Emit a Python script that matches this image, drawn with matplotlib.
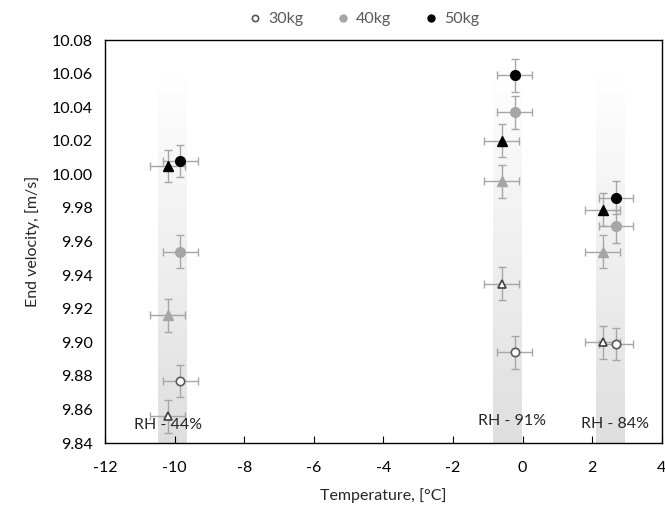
import numpy as np
import matplotlib
matplotlib.use("Agg")
import matplotlib.pyplot as plt
from matplotlib.lines import Line2D

plt.rcParams["font.family"] = ["Lato", "DejaVu Sans"]
plt.rcParams["axes.unicode_minus"] = False

# measured values (three RH conditions)
rh_labels = ["RH - 44%", "RH - 91%", "RH - 84%"]
band_temp = [-10.06, -0.43, 2.53]

circle_temp = [-9.84, -0.22, 2.69]
circle_30kg = [9.877, 9.894, 9.899]
circle_40kg = [9.954, 10.037, 9.969]
circle_50kg = [10.008, 10.059, 9.986]

triangle_temp = [-10.2, -0.6, 2.31]
triangle_30kg = [9.856, 9.935, 9.900]
triangle_40kg = [9.916, 9.996, 9.954]
triangle_50kg = [10.005, 10.020, 9.979]

temp_err = 0.5
vel_err = 0.0098

fig = plt.figure(figsize=(6.65, 5.07), dpi=100)
ax = fig.add_axes([0.158, 0.126, 0.837, 0.795])

# shaded RH bands: white at the top fading to light grey at the axis
grad = 1 - 0.13 * np.linspace(1, 0, 100).reshape(-1, 1)
for t in band_temp:
    ax.imshow(grad, extent=[t - 0.41, t + 0.41, 9.84, 10.068], aspect="auto",
              cmap="gray", vmin=0, vmax=1, origin="lower", zorder=0)

ebar = dict(fmt="none", ecolor="#a6a6a6", elinewidth=1, capsize=3, capthick=1, zorder=2)
for xs, ys in [(circle_temp, circle_30kg), (circle_temp, circle_40kg), (circle_temp, circle_50kg),
               (triangle_temp, triangle_30kg), (triangle_temp, triangle_40kg),
               (triangle_temp, triangle_50kg)]:
    ax.errorbar(xs, ys, xerr=temp_err, yerr=vel_err, **ebar)

ax.plot(circle_temp, circle_30kg, "o", ms=6, mfc="white", mec="#595959", mew=1.2, ls="none", zorder=3)
ax.plot(circle_temp, circle_40kg, "o", ms=7, color="#a6a6a6", ls="none", zorder=3)
ax.plot(circle_temp, circle_50kg, "o", ms=7, color="black", ls="none", zorder=3)
ax.plot(triangle_temp, triangle_30kg, "^", ms=6, mfc="white", mec="#404040", mew=1.2, ls="none", zorder=3)
ax.plot(triangle_temp, triangle_40kg, "^", ms=6.5, color="#a6a6a6", ls="none", zorder=3)
ax.plot(triangle_temp, triangle_50kg, "^", ms=6.5, color="black", ls="none", zorder=3)

# RH annotations
rh_x = [-10.2, -0.3, 2.65]
rh_y = [9.8505, 9.853, 9.8515]
for x, y, s in zip(rh_x, rh_y, rh_labels):
    ax.text(x, y, s, ha="center", va="center", fontsize=11.5, color="#262626", zorder=4)

ax.set_xlim(-12, 4)
ax.set_ylim(9.84, 10.08)
ax.set_xticks(np.arange(-12, 5, 2))
ax.set_yticks(np.arange(9.84, 10.081, 0.02))
ax.set_yticklabels([f"{v:.2f}" for v in np.arange(9.84, 10.081, 0.02)])
ax.tick_params(axis="x", direction="in", length=5, labelsize=11.5, pad=13)
ax.tick_params(axis="y", length=0, labelsize=11.5, pad=9)
for s in ax.spines.values():
    s.set_color("black")
    s.set_linewidth(1)

ax.set_xlabel("Temperature, [°C]", fontsize=11.5, color="#262626", labelpad=9)
ax.set_ylabel("End velocity, [m/s]", fontsize=11.5, color="#262626", labelpad=8)

handles = [
    Line2D([], [], marker="o", ls="none", ms=4.5, mfc="white", mec="#595959", mew=1.2),
    Line2D([], [], marker="o", ls="none", ms=5, color="#a6a6a6"),
    Line2D([], [], marker="o", ls="none", ms=5, color="black"),
]
fig.legend(handles, ["30kg", "40kg", "50kg"], loc="center", bbox_to_anchor=(0.546, 0.962),
           ncol=3, frameon=False, fontsize=11.5, handlelength=1.0, handletextpad=0.3,
           columnspacing=2.0, labelcolor="#595959")

fig.savefig("out.png", dpi=100)
